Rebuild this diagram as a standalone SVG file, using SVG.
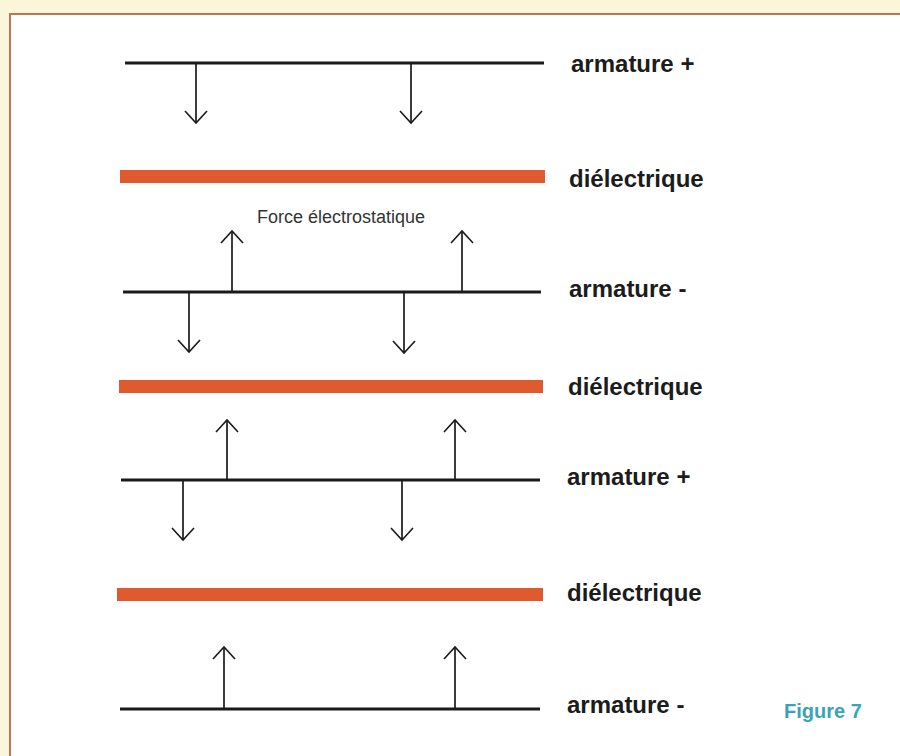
<svg xmlns="http://www.w3.org/2000/svg" width="900" height="756" viewBox="0 0 900 756">
  <defs>
    <marker id="head" markerUnits="userSpaceOnUse" markerWidth="30" markerHeight="30" refX="0" refY="0" viewBox="-15 -15 30 30" orient="auto" overflow="visible">
      <path d="M-12,-11 L0,0 L-12,11" fill="none" stroke="#1a1a1a" stroke-width="1.6"/>
    </marker>
    <style>
      .plate { stroke: #1a1a1a; stroke-width: 3.2; }
      .diel { fill: #e05a30; }
      .arrow { stroke: #1a1a1a; stroke-width: 1.7; fill: none; marker-end: url(#head); }
      .label { font-family: "Liberation Sans", Arial, sans-serif; font-weight: bold; font-size: 24px; fill: #1c1c1c; }
      .force { font-family: "Liberation Sans", Arial, sans-serif; font-size: 18px; fill: #333; }
      .fig { font-family: "Liberation Sans", Arial, sans-serif; font-weight: bold; font-size: 20px; fill: #3aa3b6; }
    </style>
  </defs>
  <rect x="0" y="0" width="900" height="756" fill="#fbf6da"/>
  <rect x="10" y="14" width="900" height="750" fill="#ffffff" stroke="#c27552" stroke-width="2"/>

  <g id="armature1">
    <line class="plate" x1="125" y1="63" x2="544" y2="63"/>
    <text class="label" x="571" y="72">armature +</text>
  </g>
  <g id="dielectrique1">
    <rect class="diel" x="120" y="170" width="425" height="13"/>
    <text class="label" x="569" y="187">diélectrique</text>
  </g>
  <g id="force-label">
    <text class="force" x="257" y="223">Force électrostatique</text>
  </g>
  <g id="armature2">
    <line class="plate" x1="123" y1="292" x2="541" y2="292"/>
    <text class="label" x="569" y="297">armature -</text>
  </g>
  <g id="dielectrique2">
    <rect class="diel" x="119" y="380" width="424" height="13"/>
    <text class="label" x="568" y="395">diélectrique</text>
  </g>
  <g id="armature3">
    <line class="plate" x1="121" y1="480" x2="540" y2="480"/>
    <text class="label" x="567" y="485">armature +</text>
  </g>
  <g id="dielectrique3">
    <rect class="diel" x="117" y="588" width="426" height="13"/>
    <text class="label" x="567" y="601">diélectrique</text>
  </g>
  <g id="armature4">
    <line class="plate" x1="120" y1="709" x2="540" y2="709"/>
    <text class="label" x="567" y="713">armature -</text>
  </g>
  <g id="figure-label">
    <text class="fig" x="784" y="718">Figure 7</text>
  </g>

  <g id="connectors">
    <line class="arrow" x1="196" y1="64" x2="196" y2="123"/>
    <line class="arrow" x1="411" y1="64" x2="411" y2="123"/>
    <line class="arrow" x1="232" y1="291" x2="232" y2="231"/>
    <line class="arrow" x1="462" y1="291" x2="462" y2="231"/>
    <line class="arrow" x1="189" y1="293" x2="189" y2="352"/>
    <line class="arrow" x1="404" y1="293" x2="404" y2="353"/>
    <line class="arrow" x1="227" y1="479" x2="227" y2="420"/>
    <line class="arrow" x1="455" y1="479" x2="455" y2="420"/>
    <line class="arrow" x1="183" y1="481" x2="183" y2="540"/>
    <line class="arrow" x1="402" y1="481" x2="402" y2="540"/>
    <line class="arrow" x1="224" y1="708" x2="224" y2="647"/>
    <line class="arrow" x1="455" y1="708" x2="455" y2="647"/>
  </g>
</svg>
